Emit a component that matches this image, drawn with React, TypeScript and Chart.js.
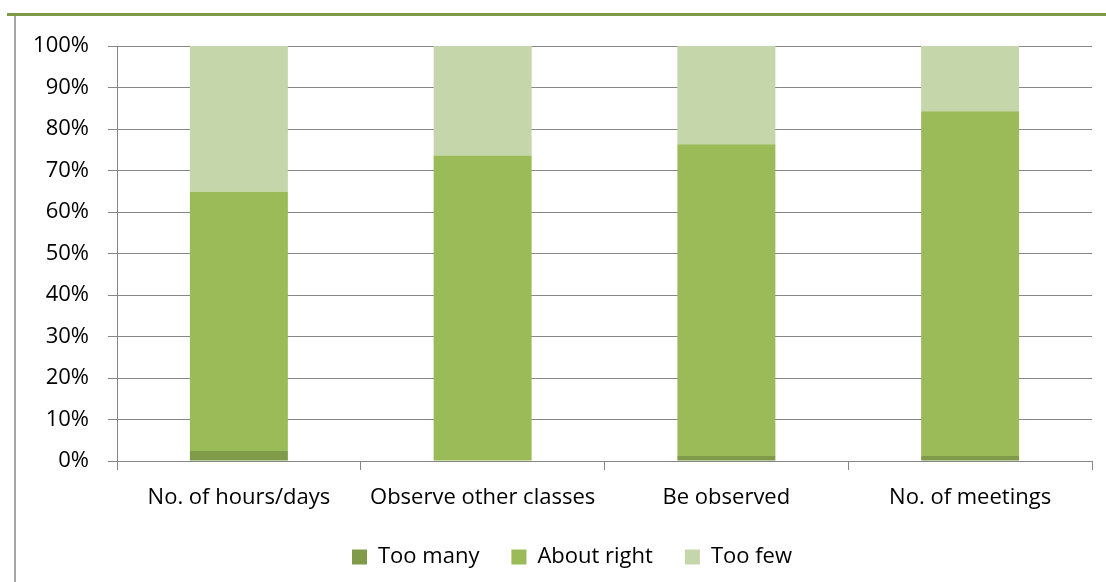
import React, { useEffect, useRef } from "react";
import { Chart, registerables } from "chart.js";

Chart.register(...registerables);

const categories = ["No. of hours/days", "Observe other classes", "Be observed", "No. of meetings"];
const tooMany = [2.4, 0, 1.2, 1.2];
const aboutRight = [62.5, 73.6, 75.1, 83.1];
const tooFew = [35.1, 26.4, 23.7, 15.7];
const yTicks = [0, 10, 20, 30, 40, 50, 60, 70, 80, 90, 100];

const FONT = "'Open Sans', sans-serif";
const FS = 22;

const decor = {
  id: "decor",
  beforeLayout(chart: any) {
    const lg = chart.legend;
    if (lg && !lg.__patched) {
      const origFit = lg.fit;
      lg.fit = function () {
        origFit.call(this);
        this.height = 68;
      };
      const origDraw = lg.draw;
      lg.draw = function () {
        const ctx = this.ctx;
        ctx.save();
        ctx.translate(26, 0);
        origDraw.call(this);
        ctx.restore();
      };
      lg.__patched = true;
    }
  },
  beforeDraw(chart: any) {
    const ctx = chart.ctx;
    ctx.save();
    ctx.fillStyle = "#ffffff";
    ctx.fillRect(0, 0, chart.width, chart.height);
    ctx.fillStyle = "#7f9a48";
    ctx.fillRect(7, 13, chart.width - 7, 3);
    ctx.fillStyle = "#a6a6a6";
    ctx.fillRect(14, 16, 2, chart.height - 16);
    ctx.restore();
  },
};

export default function App() {
  const ref = useRef<HTMLCanvasElement>(null);
  useEffect(() => {
    if (!ref.current) return;
    const chart = new Chart(ref.current, {
      type: "bar",
      data: {
        labels: categories,
        datasets: [
          { label: "Too many", data: tooMany, backgroundColor: "#7f9a48" },
          { label: "About right", data: aboutRight, backgroundColor: "#9bbb59" },
          { label: "Too few", data: tooFew, backgroundColor: "#c4d6aa" },
        ],
      },
      options: {
        animation: false,
        responsive: false,
        devicePixelRatio: 1,
        layout: { padding: { left: 0, right: 14, top: 46, bottom: 0 } },
        datasets: { bar: { categoryPercentage: 1, barPercentage: 0.402 } },
        scales: {
          x: {
            stacked: true,
            afterFit: (s: any) => { s.height = 53; },
            grid: { offset: true, drawOnChartArea: false, drawTicks: true, tickLength: 9, color: "#868686" },
            border: { color: "#868686" },
            ticks: { color: "#000", font: { family: FONT, size: FS }, padding: 15 },
          },
          y: {
            stacked: true,
            min: 0,
            max: 100,
            afterFit: (s: any) => { s.width = 117; },
            afterBuildTicks: (s: any) => { s.ticks = yTicks.map((v) => ({ value: v })); },
            grid: { color: "#868686", tickLength: 9 },
            border: { color: "#868686" },
            ticks: { color: "#000", font: { family: FONT, size: FS }, padding: 19, callback: (v: any) => v + "%" },
          },
        },
        plugins: {
          legend: {
            position: "bottom",
            labels: { boxWidth: 15, boxHeight: 15, padding: 32, color: "#000", font: { family: FONT, size: FS } },
          },
          tooltip: { enabled: false },
        },
      },
      plugins: [decor],
    });
    return () => chart.destroy();
  }, []);
  return (
    <div style={{ position: "fixed", left: 0, top: 0, width: 1106, height: 582 }}>
      <canvas ref={ref} width={1106} height={582} style={{ display: "block" }} />
    </div>
  );
}
